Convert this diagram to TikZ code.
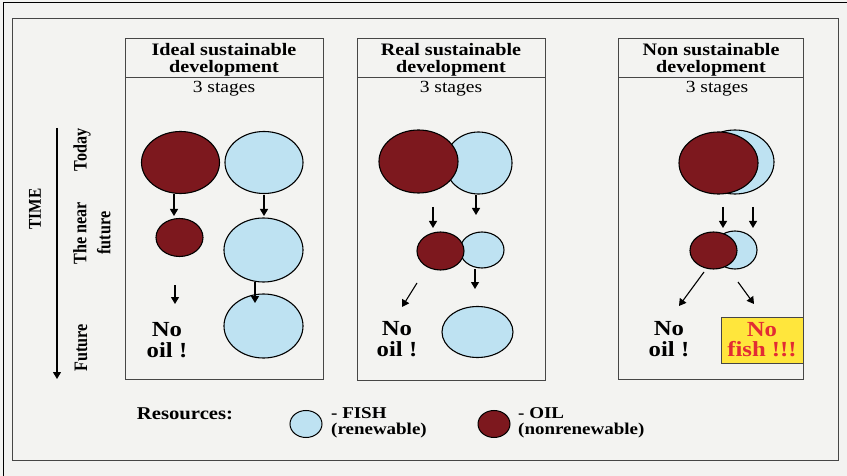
\documentclass[tikz,border=0pt]{standalone}
\usepackage{fontspec}
\setmainfont{Liberation Serif}[FakeStretch=1.15]
\newfontfamily\rotfont{Liberation Serif}[FakeStretch=0.85]
\usetikzlibrary{shapes.geometric,arrows.meta}
\definecolor{bgpaper}{RGB}{243,243,241}
\definecolor{oilred}{RGB}{125,24,30}
\definecolor{fishblue}{RGB}{190,226,242}
\definecolor{boxyellow}{RGB}{255,230,60}
\definecolor{alertred}{RGB}{226,44,52}
\definecolor{framegray}{RGB}{70,70,70}
\begin{document}
\begin{tikzpicture}[x=1pt,y=-1pt,
 res/.style={ellipse,draw=black,line width=1.1pt,inner sep=0pt,outer sep=0pt},
 oil/.style={res,fill=oilred},
 fish/.style={res,fill=fishblue},
 arr/.style={line width=1.1pt,-{Triangle[length=7pt,width=8pt]}},
 panel/.style={draw=framegray,line width=0.8pt},
 title/.style={font=\bfseries\fontsize{17.5}{17}\selectfont,align=center,inner sep=0pt},
 stages/.style={font=\fontsize{17}{17}\selectfont,inner sep=0pt,anchor=base},
 verdict/.style={font=\bfseries\fontsize{21.5}{21}\selectfont,align=center,inner sep=0pt},
 timelab/.style={font=\rotfont\bfseries\fontsize{19}{24}\selectfont,align=center,rotate=90,inner sep=0pt},
 legend/.style={font=\bfseries\fontsize{16.5}{16}\selectfont,align=left,inner sep=0pt,anchor=west}]
\useasboundingbox (0,0) rectangle (847,476);
\fill[bgpaper] (0,0) rectangle (847,476);
% outer scan edges
\draw[black,line width=1pt] (3.3,476) -- (3.3,2.7) -- (847,2.7);
% inner frame
\draw[framegray,line width=0.9pt] (12,18) rectangle (838,460);

% ---------- time axis ----------
\node[timelab,font=\rotfont\bfseries\fontsize{18}{18}\selectfont] (time) at (35,209) {TIME};
\coordinate (tA) at (57,128);
\coordinate (tB) at (57,379);
\draw[arr] (tA) -- (tB);
\node[timelab] (today) at (82,150) {Today};
\node[timelab] (near) at (92,233) {The near\\future};
\node[timelab] (future) at (81,348) {Future};

% ---------- panel 1 ----------
\draw[panel] (125,38) rectangle (323,379);
\draw[panel] (125,77) -- (323,77);
\node[title] (t1) at (224,59.5) {Ideal sustainable\\development};
\node[stages] (s1) at (224,93) {3 stages};
\node[oil,minimum width=78pt,minimum height=62pt] (o11) at (180.5,162.5) {};
\node[fish,minimum width=78pt,minimum height=62pt] (f11) at (264,162.5) {};
\node[oil,minimum width=47pt,minimum height=38pt] (o12) at (179.5,237.5) {};
\node[fish,minimum width=79pt,minimum height=64pt] (f12) at (263.5,250) {};
\node[fish,minimum width=79pt,minimum height=64pt] (f13) at (263.5,326) {};
\node[verdict] (n1) at (167,340) {No\\oil !};
\coordinate (a1s) at (174,194); \coordinate (a1e) at (174,216);
\coordinate (a2s) at (264,195); \coordinate (a2e) at (264,216);
\coordinate (a3s) at (255,282); \coordinate (a3e) at (255,303);
\coordinate (a4s) at (175,285); \coordinate (a4e) at (175,304);
\draw[arr] (a1s) -- (a1e);
\draw[arr] (a2s) -- (a2e);
\draw[arr] (a3s) -- (a3e);
\draw[arr] (a4s) -- (a4e);

% ---------- panel 2 ----------
\draw[panel] (357,38) rectangle (545,380);
\draw[panel] (357,77) -- (545,77);
\node[title] (t2) at (451,59.5) {Real sustainable\\development};
\node[stages] (s2) at (451,93) {3 stages};
\node[fish,minimum width=67pt,minimum height=62pt] (f21) at (478.5,163) {};
\node[oil,minimum width=79pt,minimum height=63pt] (o21) at (418.5,161.5) {};
\node[fish,minimum width=44pt,minimum height=36pt] (f22) at (482,250) {};
\node[oil,minimum width=47pt,minimum height=38pt] (o22) at (440.5,251) {};
\node[fish,minimum width=71pt,minimum height=51pt] (f23) at (477.5,332) {};
\node[verdict] (n2) at (397,339) {No\\oil !};
\coordinate (b1s) at (476,195); \coordinate (b1e) at (476,215);
\coordinate (b2s) at (433,207); \coordinate (b2e) at (433,228);
\coordinate (b3s) at (475,269); \coordinate (b3e) at (475,289);
\coordinate (b4s) at (417,283); \coordinate (b4e) at (402,307);
\draw[arr] (b1s) -- (b1e);
\draw[arr] (b2s) -- (b2e);
\draw[arr] (b3s) -- (b3e);
\draw[arr] (b4s) -- (b4e);

% ---------- panel 3 ----------
\draw[panel] (618,38) rectangle (803,379);
\draw[panel] (618,77) -- (803,77);
\node[title] (t3) at (711,59.5) {Non sustainable\\development};
\node[stages] (s3) at (717,93) {3 stages};
\node[fish,minimum width=78pt,minimum height=64pt] (f31) at (735,162) {};
\node[oil,minimum width=79pt,minimum height=62pt] (o31) at (718.5,163) {};
\node[fish,minimum width=44pt,minimum height=38pt] (f32) at (735,250) {};
\node[oil,minimum width=47pt,minimum height=37pt] (o32) at (713.5,250.5) {};
\node[verdict] (n3) at (669,339) {No\\oil !};
\node[draw=framegray,line width=0.8pt,fill=boxyellow,minimum width=82pt,minimum height=46pt,inner sep=0pt,
      text=alertred,font=\bfseries\fontsize{21.5}{20}\selectfont,align=center] (nf) at (762,340) {No\\fish !!!};
\coordinate (c1s) at (723,207); \coordinate (c1e) at (723,228);
\coordinate (c2s) at (753,207); \coordinate (c2e) at (753,228);
\coordinate (c3s) at (704,272); \coordinate (c3e) at (679,306);
\coordinate (c4s) at (738,282); \coordinate (c4e) at (754,304);
\draw[arr] (c1s) -- (c1e);
\draw[arr] (c2s) -- (c2e);
\draw[arr] (c3s) -- (c3e);
\draw[arr] (c4s) -- (c4e);

% ---------- legend ----------
\node[font=\bfseries\fontsize{18}{18}\selectfont,inner sep=0pt,anchor=base] (resl) at (185,419) {Resources:};
\node[fish,line width=1pt,minimum width=32pt,minimum height=27pt] (lf) at (306,424) {};
\node[legend] (lft) at (331,423) {- FISH\\(renewable)};
\node[oil,line width=1pt,minimum width=32pt,minimum height=27pt] (lo) at (494,424) {};
\node[legend] (lot) at (518,423) {- OIL\\(nonrenewable)};
\end{tikzpicture}
\end{document}
